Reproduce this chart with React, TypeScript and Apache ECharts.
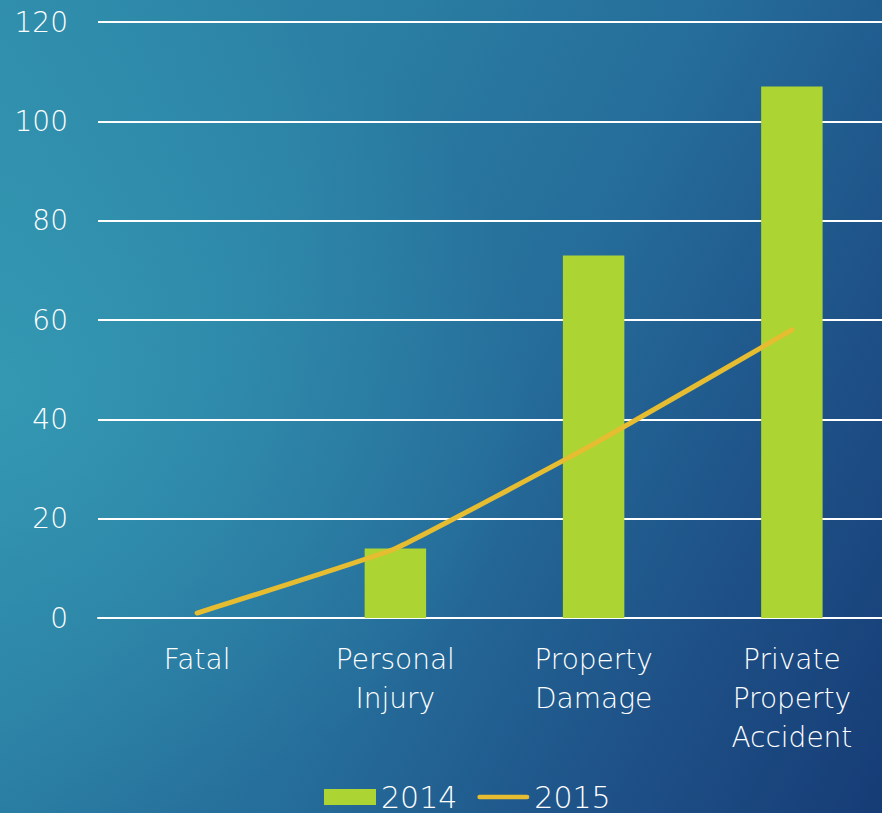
import React, { useEffect, useRef } from "react";
import * as echarts from "echarts";

const categories = ["Fatal", "Personal\nInjury", "Property\nDamage", "Private\nProperty\nAccident"];
const values2014 = [0, 14, 73, 107];
const values2015 = [1, 14, 35, 58];
const seriesNames = ["2014", "2015"];

const FONT = "DejaVu Sans";
const LINE_ICON =
  "path://M0,0 M56,16 M2.5,5.5 L53.5,5.5 A2.5,2.5 0 0 1 53.5,10.5 L2.5,10.5 A2.5,2.5 0 0 1 2.5,5.5 Z";

export default function App() {
  const ref = useRef<HTMLDivElement>(null);
  useEffect(() => {
    document.body.style.margin = "0";
    document.body.style.overflow = "hidden";
    const chart = echarts.init(ref.current!, null, { renderer: "svg" });
    chart.setOption({
      animation: false,
      backgroundColor: "transparent",
      textStyle: { fontFamily: FONT },
      grid: { left: 98, right: 0, top: 22, bottom: 195, containLabel: false },
      legend: {
        top: 777,
        left: 319,
        itemWidth: 52,
        itemHeight: 16,
        itemGap: 20,
        textStyle: { color: "#ffffff", fontSize: 30, lineHeight: 30, fontFamily: FONT, fontWeight: 300 },
        data: [
          { name: seriesNames[0], icon: "rect" },
          { name: seriesNames[1], icon: LINE_ICON, itemStyle: { color: "#e6bc31" } },
        ],
      },
      xAxis: {
        type: "category",
        data: categories,
        axisLine: { show: true, lineStyle: { color: "#ffffff", width: 2 } },
        axisTick: { show: false },
        axisLabel: {
          color: "#ffffff",
          fontSize: 28,
          lineHeight: 39,
          margin: 22,
          fontFamily: FONT,
          fontWeight: 300,
          interval: 0,
        },
      },
      yAxis: {
        type: "value",
        min: 0,
        max: 120,
        interval: 20,
        axisLine: { show: false },
        axisTick: { show: false },
        splitLine: { lineStyle: { color: "#ffffff", width: 2 } },
        axisLabel: { color: "#ffffff", fontSize: 28, margin: 30, fontFamily: FONT, fontWeight: 300 },
      },
      series: [
        {
          name: seriesNames[0],
          type: "bar",
          data: values2014,
          barWidth: "31%",
          itemStyle: { color: "#acd433" },
        },
        {
          name: seriesNames[1],
          type: "line",
          data: values2015,
          smooth: 0.1,
          symbol: "none",
          lineStyle: { color: "#e6bc31", width: 5, cap: "round" },
          itemStyle: { color: "#e6bc31" },
        },
      ],
    });
    return () => chart.dispose();
  }, []);
  return (
    <div style={{ width: 882, height: 813, overflow: "hidden", position: "relative" }}>
      <div
        ref={ref}
        style={{
          width: 891,
          height: 813,
          background:
            "radial-gradient(ellipse 60% 55% at 0% 48%, rgba(58,168,188,0.55) 0%, rgba(58,168,188,0) 100%), linear-gradient(118deg, #2f8dab 0%, #2a7ea3 30%, #256c9a 55%, #1e5187 78%, #163b75 100%)",
        }}
      />
    </div>
  );
}
